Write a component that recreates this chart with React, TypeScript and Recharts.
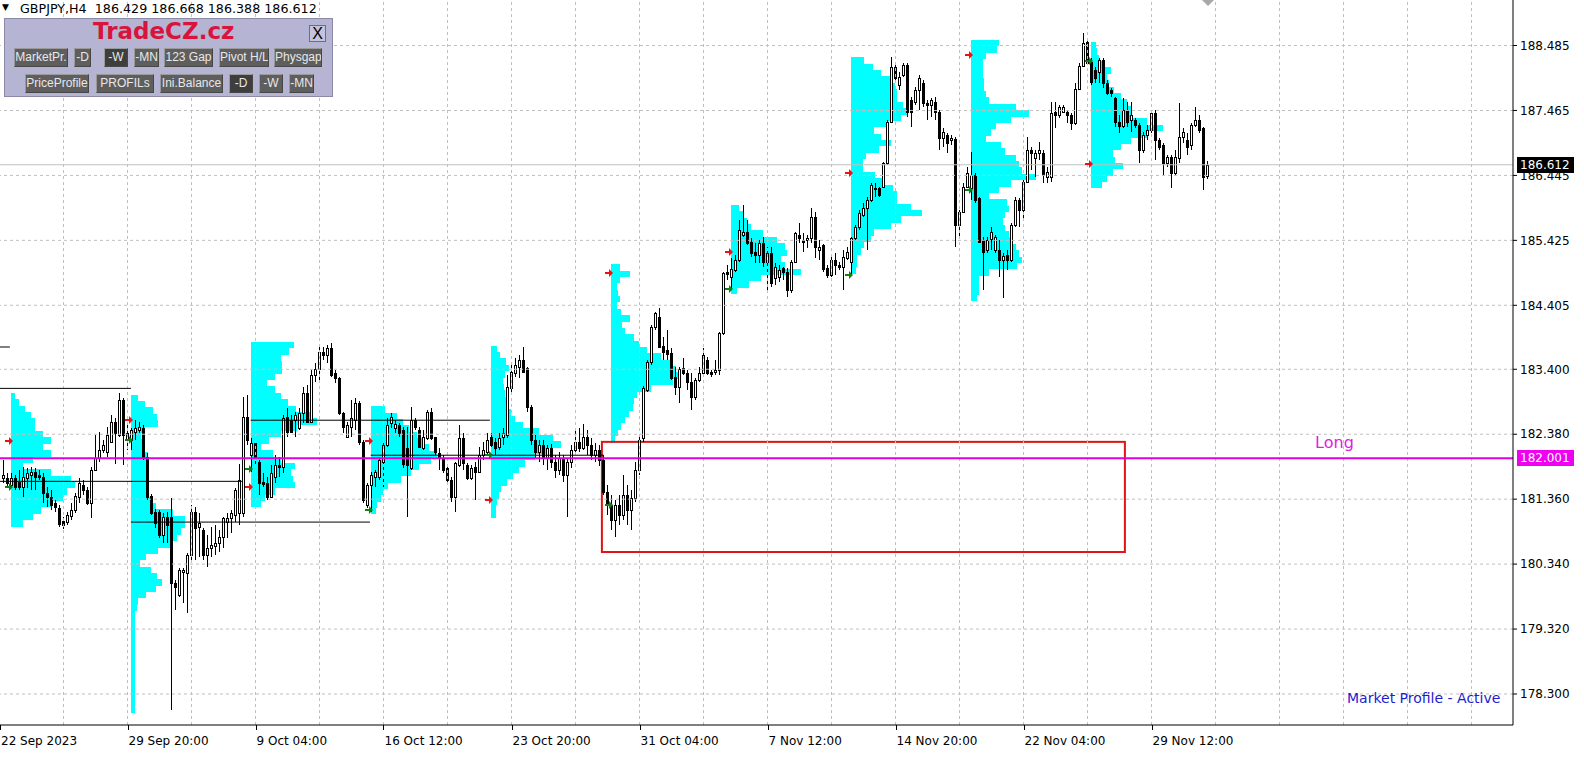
import React from 'react';
import {
  ComposedChart, Bar, Scatter, XAxis, YAxis,
  ReferenceLine, ReferenceArea, ReferenceDot,
} from 'recharts';

const FONT = '"DejaVu Sans", Tahoma, sans-serif';

// GBPJPY H4 candles: [open, high, low, close], oldest first
const BARS: number[][] = [
  [181.69,181.97,181.61,181.74],[181.69,181.77,181.55,181.61],[181.58,181.77,181.53,181.69],[181.69,181.74,181.50,181.55],
  [181.63,181.82,181.50,181.55],[181.55,181.86,181.39,181.71],[181.69,181.85,181.53,181.77],[181.74,181.86,181.50,181.78],
  [181.78,181.85,181.50,181.71],[181.74,181.82,181.66,181.71],[181.71,181.77,181.30,181.46],[181.46,181.55,181.24,181.39],
  [181.39,181.50,181.19,181.27],[181.30,181.35,181.16,181.24],[181.22,181.27,180.92,180.97],[181.02,181.08,180.89,180.95],
  [181.00,181.16,180.95,181.11],[181.09,181.30,181.03,181.19],[181.19,181.46,181.14,181.41],[181.39,181.69,181.30,181.61],
  [181.58,181.66,181.42,181.50],[181.50,181.55,181.27,181.30],[181.30,181.86,181.06,181.82],[181.82,182.37,181.82,182.00],
  [182.00,182.41,181.94,182.13],[182.13,182.29,182.08,182.21],[182.10,182.49,182.02,182.37],[182.26,182.68,182.24,182.57],
  [182.57,182.63,181.92,182.40],[182.37,183.03,182.33,182.92],[182.92,182.95,181.89,182.37],[182.29,182.52,182.13,182.40],
  [182.29,182.48,182.13,182.45],[182.41,182.60,182.29,182.48],[182.45,182.57,182.40,182.49],[182.48,182.52,181.97,182.02],
  [182.02,182.08,181.35,181.39],[181.41,181.44,181.11,181.14],[181.16,181.20,180.90,180.98],[181.16,181.19,180.75,180.80],
  [180.80,181.14,180.67,181.08],[181.08,181.16,180.67,180.95],[181.08,181.38,178.05,180.04],[180.04,180.09,179.62,179.98],
  [179.85,180.28,179.82,180.25],[180.21,180.28,179.73,180.25],[180.20,180.51,179.57,180.48],[180.48,181.27,180.40,181.16],
  [181.16,181.24,180.40,180.90],[180.92,181.14,180.45,180.98],[180.87,180.90,180.40,180.48],[180.48,180.80,180.29,180.59],
  [180.59,180.92,180.45,180.64],[180.62,180.95,180.48,180.67],[180.67,180.87,180.53,180.76],[180.76,181.08,180.59,181.06],
  [181.00,181.14,180.75,181.06],[181.06,181.19,180.83,181.14],[181.11,181.53,181.00,181.50],[181.14,181.92,180.95,181.66],
  [181.14,182.96,181.08,182.65],[182.65,183.00,182.21,182.29],[182.05,182.32,181.78,182.24],[182.24,182.29,181.92,182.02],
  [181.94,181.97,181.42,181.61],[181.63,181.77,181.55,181.60],[181.61,181.71,181.35,181.39],[181.39,181.89,181.38,181.77],
  [181.71,182.05,181.61,181.89],[181.89,182.02,181.71,181.86],[181.86,182.68,181.77,182.63],[182.65,182.79,182.33,182.41],
  [182.60,182.68,182.40,182.41],[182.60,182.73,182.33,182.68],[182.48,182.79,182.45,182.71],[182.71,183.12,182.55,183.03],
  [183.03,183.15,182.55,182.57],[182.57,183.39,182.57,183.31],[183.31,183.50,183.20,183.40],[183.40,183.75,183.20,183.67],
  [183.67,183.75,183.54,183.62],[183.62,183.78,183.50,183.73],[183.73,183.81,183.28,183.31],[183.34,183.39,183.18,183.26],
  [183.26,183.28,182.68,182.71],[182.71,182.73,182.40,182.49],[182.33,182.57,182.32,182.52],[182.49,182.92,182.33,182.63],
  [182.60,182.95,182.45,182.87],[182.87,182.90,182.21,182.26],[182.26,182.29,181.30,181.35],[181.27,181.61,181.22,181.58],
  [181.58,181.78,181.16,181.74],[181.71,181.82,181.55,181.78],[181.71,182.00,181.66,181.97],[181.94,182.29,181.55,182.21],
  [182.21,182.63,182.18,182.52],[182.55,182.71,182.48,182.65],[182.48,182.60,182.40,182.54],[182.52,182.55,182.33,182.40],
  [182.45,182.49,181.85,181.92],[182.16,182.49,181.08,181.89],[181.85,182.81,181.82,182.60],[182.60,182.63,182.45,182.49],
  [182.45,182.49,182.16,182.18],[182.16,182.45,182.13,182.33],[182.32,182.76,182.29,182.73],[182.73,182.79,182.29,182.32],
  [182.33,182.34,182.05,182.10],[182.08,182.16,181.82,182.00],[182.00,182.05,181.77,181.82],[181.85,181.86,181.61,181.66],
  [181.66,181.71,181.31,181.39],[181.39,181.94,181.16,181.93],[181.89,182.52,181.86,182.32],[182.32,182.40,181.82,181.93],
  [181.89,181.93,181.66,181.69],[181.69,181.89,181.66,181.85],[181.86,181.94,181.35,181.78],[181.78,182.18,181.77,182.05],
  [182.05,182.26,181.97,182.13],[182.10,182.40,182.05,182.29],[182.33,182.40,182.18,182.21],[182.26,182.32,182.05,182.16],
  [182.18,182.40,182.13,182.32],[182.33,182.48,182.21,182.40],[182.37,183.31,182.32,183.12],[183.10,183.51,183.04,183.36],
  [183.34,183.58,183.28,183.47],[183.43,183.62,183.26,183.54],[183.54,183.75,183.34,183.36],[183.42,183.43,182.73,182.81],
  [182.81,182.84,182.21,182.29],[182.29,182.37,182.00,182.10],[182.10,182.29,181.94,182.21],[182.21,182.29,181.89,182.00],
  [182.00,182.21,181.82,182.16],[182.16,182.22,181.85,181.94],[181.94,182.05,181.69,181.82],[181.82,182.10,181.74,182.00],
  [182.00,182.05,181.63,181.74],[181.74,182.00,181.08,181.94],[181.94,182.21,181.85,182.13],[182.13,182.45,182.05,182.26],
  [182.26,182.48,182.10,182.16],[182.16,182.54,182.13,182.33],[182.33,182.45,182.05,182.21],[182.21,182.32,181.97,182.05],
  [182.05,182.24,181.94,182.13],[182.13,182.21,181.88,181.97],[181.97,182.05,181.42,181.47],[181.47,181.58,181.11,181.27],
  [181.27,181.42,180.87,181.03],[181.03,181.35,180.76,181.27],[181.27,181.42,180.95,181.11],[181.11,181.74,181.03,181.42],
  [181.42,181.58,180.95,181.19],[181.19,181.50,180.87,181.38],[181.38,181.94,181.31,181.82],[181.82,182.37,181.74,182.29],
  [182.32,183.14,182.26,183.10],[183.07,183.54,183.04,183.51],[183.51,184.09,183.47,184.06],[184.06,184.30,184.02,184.28],
  [184.22,184.36,183.73,183.75],[183.76,183.91,183.54,183.67],[183.70,184.02,183.54,183.64],[183.65,183.73,183.23,183.26],
  [183.28,183.43,183.00,183.12],[183.12,183.43,182.87,183.40],[183.42,183.58,183.31,183.34],[183.34,183.39,183.07,183.20],
  [183.20,183.34,182.76,182.96],[182.96,183.26,182.92,183.23],[183.23,183.43,183.20,183.34],[183.34,183.73,183.31,183.62],
  [183.54,183.59,183.31,183.34],[183.36,183.39,183.28,183.32],[183.36,183.54,183.31,183.39],[183.39,183.98,183.31,183.97],
  [183.97,184.93,183.94,184.91],[184.93,185.04,184.80,184.90],[184.85,185.15,184.64,184.97],[184.96,185.19,184.93,185.12],
  [185.12,185.74,185.08,185.59],[185.51,185.98,185.48,185.56],[185.56,185.74,185.35,185.38],[185.40,185.46,185.16,185.23],
  [185.24,185.38,185.07,185.19],[185.19,185.43,185.07,185.38],[185.38,185.48,185.01,185.08],[185.08,185.32,184.64,185.23],
  [185.23,185.32,184.69,184.75],[184.83,185.07,184.72,185.01],[184.85,185.04,184.77,184.96],[184.99,185.01,184.80,184.93],
  [184.93,184.99,184.53,184.64],[184.64,185.12,184.60,185.08],[185.08,185.56,185.07,185.54],[185.51,185.70,185.38,185.46],
  [185.43,185.54,185.24,185.40],[185.43,185.51,185.30,185.46],[185.46,185.93,185.38,185.79],[185.79,185.87,185.15,185.32],
  [185.27,185.43,185.12,185.32],[185.35,185.36,184.93,184.97],[184.99,185.04,184.83,184.88],[184.88,185.19,184.85,185.12],
  [185.12,185.23,184.88,185.04],[185.04,185.08,184.96,185.01],[185.01,185.27,184.64,185.16],[185.15,185.32,185.12,185.24],
  [185.08,185.48,184.88,185.46],[185.46,185.67,185.43,185.63],[185.63,185.90,185.59,185.85],[185.82,186.01,185.79,185.93],
  [185.93,186.11,185.27,186.06],[186.06,186.33,186.03,186.29],[186.23,186.33,186.11,186.25],[186.25,186.26,186.11,186.14],
  [186.26,186.65,186.25,186.64],[186.64,187.31,186.61,187.28],[187.28,188.30,187.27,188.15],[188.15,188.21,187.94,187.97],
  [187.86,188.07,187.79,187.99],[188.02,188.21,187.99,188.18],[188.18,188.21,187.36,187.44],[187.63,187.68,187.20,187.44],
  [187.60,187.83,187.55,187.79],[187.79,188.02,187.47,187.97],[187.90,187.94,187.52,187.58],[187.58,187.63,187.31,187.55],
  [187.55,187.66,187.36,187.63],[187.60,187.68,187.31,187.44],[187.44,187.47,186.84,187.03],[187.03,187.19,186.89,187.13],
  [187.08,187.11,186.80,186.95],[187.00,187.08,186.92,187.03],[187.02,187.05,185.32,185.67],[185.67,185.90,185.48,185.87],
  [185.87,186.33,185.85,186.26],[186.26,186.58,186.25,186.48],[186.25,186.81,186.06,186.45],[186.45,186.48,186.01,186.06],
  [186.09,186.11,185.38,185.40],[185.43,185.48,184.64,185.24],[185.27,185.48,185.23,185.43],[185.45,185.63,185.27,185.56],
  [185.27,185.51,185.23,185.48],[185.27,185.43,184.85,185.12],[185.12,185.23,184.52,185.18],[185.19,185.27,184.96,185.12],
  [185.12,185.70,185.08,185.67],[185.67,186.11,185.63,186.06],[186.06,186.09,185.63,185.90],[185.90,186.37,185.74,186.34],
  [186.34,187.05,186.33,186.84],[186.84,186.89,186.53,186.80],[186.72,186.84,186.42,186.80],[186.80,186.97,186.69,186.84],
  [186.80,186.84,186.33,186.45],[186.42,186.58,186.33,186.50],[186.42,187.60,186.34,187.42],[187.44,187.60,187.19,187.39],
  [187.39,187.55,187.35,187.52],[187.44,187.55,187.42,187.52],[187.44,187.47,187.27,187.39],[187.39,187.42,187.16,187.27],
  [187.27,187.90,187.24,187.80],[187.80,188.21,187.79,188.16],[188.16,188.68,188.15,188.52],[188.54,188.57,188.18,188.21],
  [188.23,188.29,187.86,187.91],[188.10,188.15,187.90,187.97],[188.07,188.29,187.90,188.26],[188.26,188.29,187.82,187.90],
  [187.90,187.94,187.71,187.74],[187.79,187.82,187.68,187.74],[187.66,187.68,187.20,187.28],[187.28,187.39,187.11,187.22],
  [187.22,187.66,187.19,187.47],[187.47,187.60,187.20,187.28],[187.31,187.60,187.13,187.39],[187.31,187.35,187.19,187.24],
  [187.24,187.27,186.64,186.84],[186.84,187.13,186.80,187.08],[187.08,187.24,187.00,187.16],[187.16,187.44,187.11,187.42],
  [187.42,187.47,186.69,187.00],[187.00,187.03,186.84,186.89],[186.92,186.95,186.45,186.64],[186.64,186.77,186.58,186.73],
  [186.73,186.77,186.25,186.48],[186.48,186.84,186.45,186.73],[186.72,187.58,186.64,187.05],[187.05,187.19,186.95,187.13],
  [187.00,187.11,186.77,186.89],[186.92,187.27,186.84,187.24],[187.24,187.52,187.20,187.31],[187.31,187.39,187.11,187.16],
  [187.19,187.20,186.22,186.42],[186.429,186.668,186.388,186.612],
];

// time axis (bar index) and its labels
const TIME_TICKS = [-0.875, 31, 63, 95, 127, 159, 191, 223, 255, 287];
const TIME_LABELS = ['22 Sep 2023', '29 Sep 20:00', '9 Oct 04:00', '16 Oct 12:00', '23 Oct 20:00',
  '31 Oct 04:00', '7 Nov 12:00', '14 Nov 20:00', '22 Nov 04:00', '29 Nov 12:00'];
const GRID_X = [15, 31, 47, 63, 79, 95, 111, 127, 143, 159, 175, 191, 207, 223, 239, 255, 271, 287, 303, 319, 335, 351, 367];
const PRICE_TICKS = [188.485, 187.465, 186.445, 185.425, 184.405, 183.4, 182.38, 181.36, 180.34, 179.32, 178.3];

// weekly market profiles: start bar, top price, row widths in bars (rows of 0.1)
const ROW_STEP = 0.1;
const PROFILE_START = [1.85, 31.85, 61.8, 91.8, 121.8, 151.8, 181.85, 211.8, 241.8, 271.8];
const PROFILE_TOP = [183.03, 183.0, 183.83, 182.82, 183.77, 185.05, 185.98, 188.3, 188.57, 188.54];
const PROFILE_ROWS: number[][] = [
  [1, 2, 3.5, 5, 6, 6, 8, 10, 8, 10, 5.5, 3, 10, 15, 16, 14, 13, 10, 7.5, 5.5, 3],
  [1.75, 3.5, 5.5, 6.5, 6.75, 3.5, 2.5, 3, 3.25, 4.25, 4.25, 4.25, 4, 3.75, 4, 4, 4.75, 6.25, 10.5, 13.5, 13.5, 12.5, 11.5, 10,
    6.75, 3.75, 2.25, 5, 6.5, 7.75, 6.25, 3.75, 1.75, 1.5, 1, 1, 1, 1, 1, 1, 1, 1, 1, 1, 1, 1, 1, 1, 1, 1],
  [10.75, 9.5, 7.5, 7.75, 7.75, 6, 4, 6, 7.5, 9.25, 11.25, 15, 16.5, 11.5, 7.5, 4.5, 2.5, 5.5, 7.5, 11, 10, 10.5, 11, 6, 3.5, 2.5],
  [3.5, 6.5, 8, 9.5, 11.5, 13, 14.5, 16.5, 15, 12, 10, 7.5, 4.25, 3, 2.5, 1.5, 1.25],
  [1.5, 2.25, 3.75, 4.5, 3.5, 3, 3.25, 3.5, 3.75, 4, 5, 6, 8, 12, 15.5, 17.5, 14, 11, 8.5, 7, 5.5, 4, 2.5, 2, 1.5, 1.25, 1.25],
  [2.25, 4.75, 2.25, 1.5, 1.75, 2.25, 1.5, 2.5, 4.75, 2.75, 3.5, 5.75, 7, 9, 12.5, 15, 16.25, 17.25, 15.5, 10, 6.5, 5.75, 5.5,
    4.5, 3.5, 2.5, 1.75, 1],
  [2, 3, 4, 5, 8, 11.5, 13.5, 14, 12.5, 13.5, 17.5, 7.5, 4.5, 1.5],
  [3.25, 5.5, 7.5, 10, 11, 11.5, 11.5, 13, 14.25, 12.5, 8.75, 5.75, 7.5, 10, 7, 3.75, 3, 3, 6, 8, 10.5, 11.5, 11.5, 15, 17.75,
    12.5, 10, 5.75, 5, 3.25, 2.5, 1.5, 1.5, 1.25],
  [7, 6.5, 3.75, 3, 3, 3, 3.25, 3.25, 3.75, 4.5, 11.25, 14.5, 10, 6.25, 5, 3.75, 7.5, 8.5, 11.25, 12, 12.75, 16.25, 10, 7, 4.5,
    9, 9.5, 8.5, 8, 8.5, 9.5, 10.5, 11.25, 12, 12.75, 11.5, 4.5, 2, 2, 2, 1.5],
  [1.25, 1.5, 2, 3.25, 5, 4, 4.5, 5.75, 7.5, 9, 10, 10, 14, 18, 14, 10, 7.5, 5.5, 6, 8, 5.5, 4, 2.75],
];

// black level lines of previous sessions
const LEVEL_PRICE = [183.75, 183.1, 181.64, 181.0, 182.6, 182.05];
const LEVEL_FROM = [-0.875, -0.875, -0.875, 31.85, 61.8, 91.8];
const LEVEL_TO = [1.6, 31.85, 59.85, 91.6, 121.6, 150.1];

// session arrows
const RED_ARROW_X = [1.3, 31.3, 61.3, 91.3, 121.3, 151.3, 181.3, 211.3, 241.3, 271.3];
const RED_ARROW_Y = [182.27, 182.6, 181.55, 182.27, 181.35, 184.91, 185.24, 186.48, 188.34, 186.62];
const GREEN_ARROW_X = [1.3, 31.3, 61.3, 91.3, 121.3, 151.3, 181.3, 211.3, 241.3, 271.3];
const GREEN_ARROW_Y = [181.55, 182.29, 181.83, 181.19, 182.05, 181.27, 184.66, 184.88, 186.22, 188.24];

const BID = 186.612;
const LONG_LEVEL = 182.001;
const BOX_X = [149.6, 280.35];
const BOX_Y = [180.53, 182.26];

const rows = BARS.map((b, i) => ({ i, o: b[0], h: b[1], l: b[2], c: b[3] }));

function Candle(props: any) {
  const { x, y, width, height, payload } = props;
  if (y == null || isNaN(y) || !payload) return null;
  const cx = Math.floor(x + width / 2) + 0.5;
  const ppu = height / (payload.h - payload.l);
  const yo = y + (payload.h - payload.o) * ppu;
  const yc = y + (payload.h - payload.c) * ppu;
  const top = Math.round(Math.min(yo, yc));
  const bot = Math.max(Math.round(Math.max(yo, yc)), top + 1);
  const up = payload.c >= payload.o;
  return (
    <g shapeRendering="crispEdges">
      <line x1={cx} x2={cx} y1={Math.round(y)} y2={Math.round(y + height)} stroke="#000" />
      <rect x={cx - 1} y={top + 0.5} width={2} height={bot - top} fill={up ? '#fff' : '#000'} stroke="#000" />
    </g>
  );
}

const CyanRow = (p: any) => (
  <rect x={p.x} y={p.y} width={p.width} height={p.height} fill="#00ffff" shapeRendering="crispEdges" />
);

const RedBox = (p: any) => (
  <rect x={p.x} y={p.y} width={p.width} height={p.height} fill="none" stroke="#e01414" strokeWidth={2} />
);

const arrow = (color: string) => (p: any) => {
  const x = Math.round(p.cx), y = Math.round(p.cy);
  return (
    <polygon
      points={`${x - 4},${y - 1} ${x},${y - 1} ${x},${y - 4} ${x + 4},${y} ${x},${y + 4} ${x},${y + 1} ${x - 4},${y + 1}`}
      fill={color}
    />
  );
};

const priceTag = (bg: string, text: string) => (p: any) => {
  const vb = p.viewBox || {};
  const x = vb.x + vb.width + 4;
  const y = Math.round(vb.y);
  return (
    <g>
      <rect x={x} y={y - 8} width={57} height={16} fill={bg} />
      <text x={x + 3} y={y} dy="0.36em" fill="#fff" fontSize={12} fontFamily={FONT}>{text}</text>
    </g>
  );
};

const longLabel = (p: any) => {
  const vb = p.viewBox || {};
  return (
    <text x={vb.x} y={vb.y} fill="#e020e0" fontSize={16} fontFamily={FONT}>Long</text>
  );
};

function TimeTick(props: any) {
  const { x, y, payload } = props;
  const idx = TIME_TICKS.indexOf(payload.value);
  const px = Math.round(x) + 0.5;
  return (
    <g>
      <line x1={px} x2={px} y1={y} y2={y + 5} stroke="#000" shapeRendering="crispEdges" />
      <text x={x + 1} y={y + 20} fontSize={12} fontFamily={FONT} fill="#000">{TIME_LABELS[idx]}</text>
    </g>
  );
}

const BUTTONS_1: [string, number, number, boolean][] = [
  ['MarketPr.', 14, 54, false], ['-D', 74, 17, false], ['-W', 104, 24, true], ['-MN', 134, 25, false],
  ['123 Gap', 164, 49, false], ['Pivot H/L', 219, 50, false], ['Physgap', 274, 48, false],
];
const BUTTONS_2: [string, number, number, boolean][] = [
  ['PriceProfile', 25, 64, false], ['PROFILs', 96, 58, false], ['Ini.Balance', 160, 63, false],
  ['-D', 229, 24, true], ['-W', 259, 24, false], ['-MN', 289, 25, false],
];

function Button({ label, left, top, width, dark }: any) {
  return (
    <div style={{
      position: 'absolute', left, top, width, height: 19, boxSizing: 'border-box',
      background: dark ? '#3e3e3e' : '#5e5e5e', color: '#e8e8e8',
      border: '1px solid', borderColor: '#9a9a9a #474747 #474747 #9a9a9a',
      fontSize: 12, fontFamily: '"Liberation Sans", Arial, sans-serif', lineHeight: '17px',
      textAlign: 'center', whiteSpace: 'nowrap', overflow: 'hidden',
    }}>{label}</div>
  );
}

export default function App() {
  return (
    <div style={{ position: 'absolute', left: 0, top: 0, width: 1584, height: 762, background: '#fff', overflow: 'hidden' }}>
      <ComposedChart width={1584} height={762} data={rows} margin={{ top: 0, right: 0, bottom: 0, left: 0 }}>
        <XAxis
          type="number" dataKey="i" domain={[-0.875, 377.375]} allowDataOverflow
          ticks={TIME_TICKS} interval={0} tick={<TimeTick />} tickLine={false} tickSize={0} tickMargin={0}
          axisLine={{ stroke: '#000' }} height={37}
        />
        <YAxis
          orientation="right" type="number" domain={[177.813, 189.2]} allowDataOverflow
          ticks={PRICE_TICKS} interval={0} width={71} tickSize={4} tickMargin={3}
          tick={{ fill: '#000', fontSize: 12, fontFamily: FONT }} tickLine={{ stroke: '#000' }}
          axisLine={{ stroke: '#000' }} tickFormatter={(v: number) => v.toFixed(3)}
        />
        {GRID_X.map((gx) => (
          <ReferenceLine key={`gx${gx}`} x={gx} stroke="#c0c0c0" strokeDasharray="3 3" />
        ))}
        {PRICE_TICKS.map((gy) => (
          <ReferenceLine key={`gy${gy}`} y={gy} stroke="#c0c0c0" strokeDasharray="3 3" />
        ))}
        {PROFILE_ROWS.flatMap((widths, k) =>
          widths.map((w, r) => (
            <ReferenceArea
              key={`p${k}-${r}`}
              x1={PROFILE_START[k]} x2={PROFILE_START[k] + w}
              y1={PROFILE_TOP[k] - ROW_STEP * (r + 1)} y2={PROFILE_TOP[k] - ROW_STEP * r}
              shape={CyanRow}
            />
          )),
        )}
        {LEVEL_PRICE.map((lp, k) => (
          <ReferenceLine
            key={`lv${k}`} stroke="#000"
            segment={[{ x: LEVEL_FROM[k], y: lp }, { x: LEVEL_TO[k], y: lp }]}
          />
        ))}
        <ReferenceLine y={BID} stroke="#c0c0c0" label={priceTag('#000', BID.toFixed(3))} />
        <Bar dataKey={(d: any) => [d.l, d.h]} shape={<Candle />} barSize={3} isAnimationActive={false} />
        <ReferenceArea x1={BOX_X[0]} x2={BOX_X[1]} y1={BOX_Y[0]} y2={BOX_Y[1]} shape={RedBox} />
        <ReferenceLine y={LONG_LEVEL} stroke="#e000e0" strokeWidth={2} label={priceTag('#f000f0', LONG_LEVEL.toFixed(3))} />
        <ReferenceDot x={327.9} y={182.17} r={0} fill="none" stroke="none" label={longLabel} />
        <Scatter
          data={RED_ARROW_X.map((ax, k) => ({ i: ax, p: RED_ARROW_Y[k] }))}
          dataKey="p" shape={arrow('#f01010')} isAnimationActive={false}
        />
        <Scatter
          data={GREEN_ARROW_X.map((ax, k) => ({ i: ax, p: GREEN_ARROW_Y[k] }))}
          dataKey="p" shape={arrow('#108010')} isAnimationActive={false}
        />
      </ComposedChart>

      {/* header line */}
      <div style={{ position: 'absolute', left: 2, top: 2, fontSize: 9, fontFamily: FONT }}>▼</div>
      <div style={{ position: 'absolute', left: 20, top: 1, fontSize: 12.7, fontFamily: FONT, whiteSpace: 'pre' }}>
        GBPJPY,H4  186.429 186.668 186.388 186.612
      </div>

      {/* control panel */}
      <div style={{
        position: 'absolute', left: 4, top: 18, width: 329, height: 79, boxSizing: 'border-box',
        background: '#b5b5d3', border: '1px solid #8a8aa8',
      }} />
      <div style={{
        position: 'absolute', left: 93, top: 18, fontSize: 23, fontWeight: 'bold', color: '#d8143c',
        fontFamily: '"DejaVu Sans", Verdana, sans-serif',
      }}>TradeCZ.cz</div>
      <div style={{
        position: 'absolute', left: 309, top: 25, width: 17, height: 17, boxSizing: 'border-box',
        background: '#c4c4de', border: '1px solid #6c6c8c', fontSize: 16, lineHeight: '15px',
        textAlign: 'center', fontFamily: '"Liberation Sans", Arial, sans-serif',
      }}>X</div>
      {BUTTONS_1.map(([t, l, w, d]) => <Button key={`a${t}${l}`} label={t} left={l} top={48} width={w} dark={d} />)}
      {BUTTONS_2.map(([t, l, w, d]) => <Button key={`b${t}${l}`} label={t} left={l} top={74} width={w} dark={d} />)}

      <div style={{ position: 'absolute', left: 1347, top: 690, fontSize: 14, color: '#1c1cd0', fontFamily: FONT }}>
        Market Profile - Active
      </div>
      <svg style={{ position: 'absolute', left: 0, top: 0 }} width={1584} height={10}>
        <polygon points="1202,0 1214,0 1208,6" fill="#a8a8a8" />
      </svg>
    </div>
  );
}
